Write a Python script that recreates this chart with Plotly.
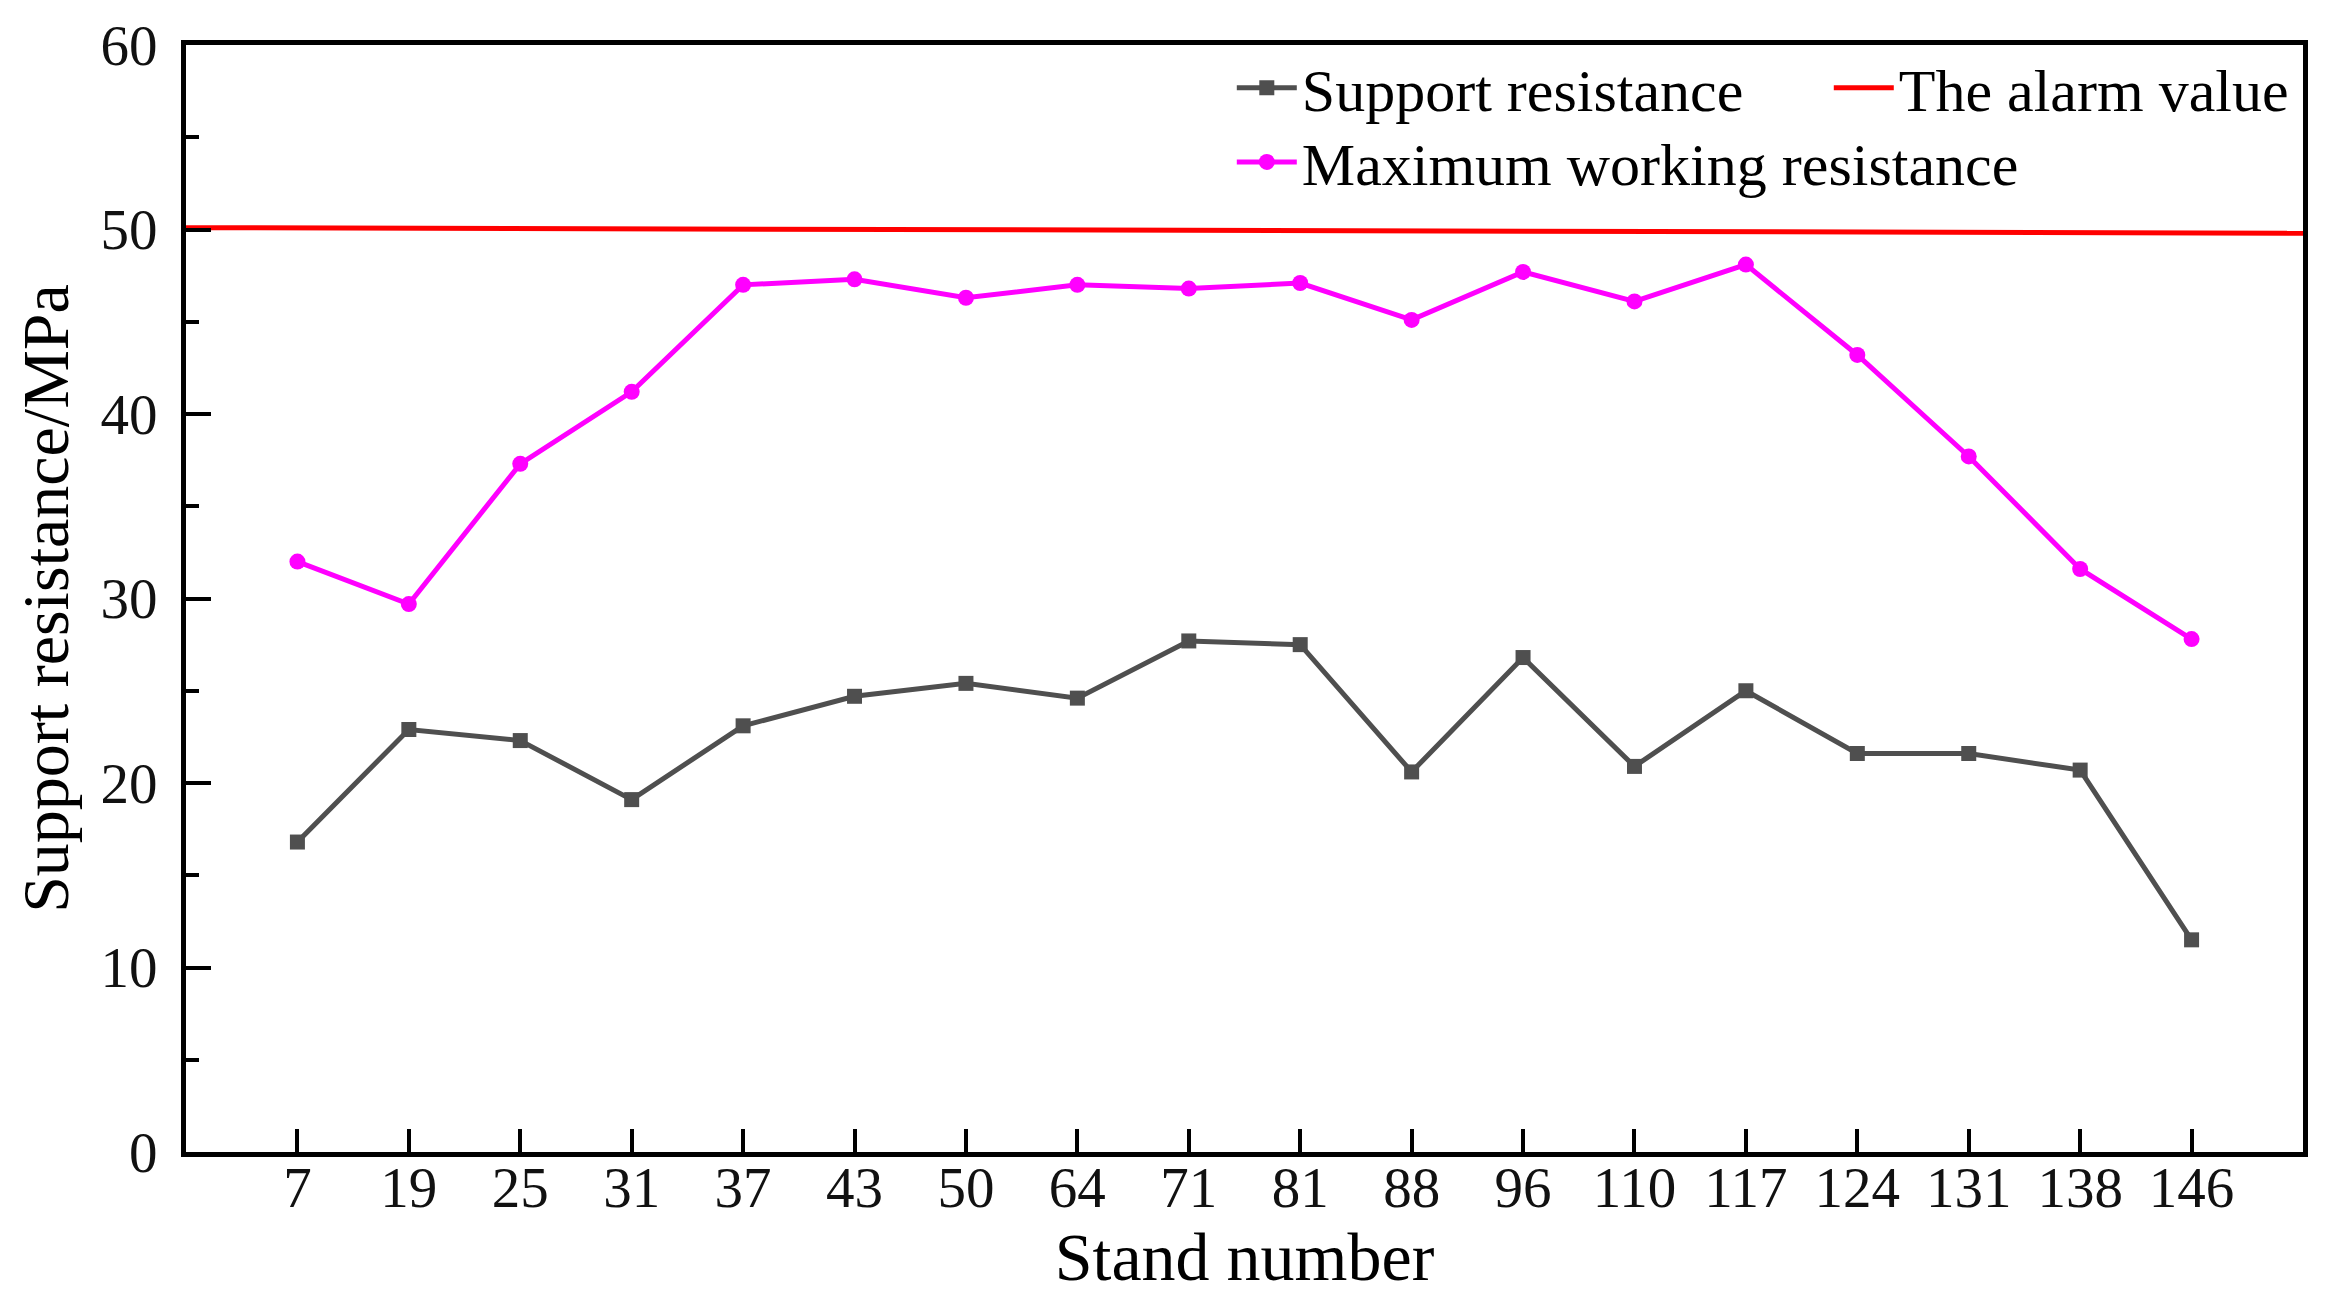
import plotly.graph_objects as go

# ---- data ----
stand_numbers = [7, 19, 25, 31, 37, 43, 50, 64, 71, 81, 88, 96, 110, 117, 124, 131, 138, 146]
support_resistance = [16.8, 22.9, 22.3, 19.1, 23.1, 24.7, 25.4, 24.6, 27.7, 27.5, 20.6, 26.8,
                      20.9, 25.0, 21.6, 21.6, 20.7, 11.5]
max_working_resistance = [32.0, 29.7, 37.3, 41.2, 47.0, 47.3, 46.3, 47.0, 46.8, 47.1, 45.1, 47.7,
                          46.1, 48.1, 43.2, 37.7, 31.6, 27.8]
alarm_values = [50.1, 49.8]  # alarm line at left / right edge
y_ticks = [0, 10, 20, 30, 40, 50, 60]

idx = list(range(len(stand_numbers)))
alarm_x = [-1, len(stand_numbers)]

FONT = "Liberation Serif, Times New Roman, serif"

fig = go.Figure()
fig.add_trace(go.Scatter(
    x=idx, y=support_resistance, name="Support resistance", mode="lines+markers",
    line=dict(color="#4f4f4f", width=5),
    marker=dict(symbol="square", size=15, color="#4f4f4f"),
    legend="legend",
))
fig.add_trace(go.Scatter(
    x=alarm_x, y=alarm_values, name="The alarm value", mode="lines",
    line=dict(color="#ff0000", width=5),
    legend="legend2",
))
fig.add_trace(go.Scatter(
    x=idx, y=max_working_resistance, name="Maximum working resistance", mode="lines+markers",
    line=dict(color="#ff00ff", width=5),
    marker=dict(symbol="circle", size=16, color="#ff00ff"),
    legend="legend3",
))

axis_common = dict(
    showgrid=False, zeroline=False, showline=True, linecolor="black", linewidth=5,
    mirror=True, ticks="inside", tickcolor="black", tickwidth=4,
)

leg_common = dict(
    orientation="h", xanchor="left", yanchor="top",
    bgcolor="rgba(0,0,0,0)", borderwidth=0,
    font=dict(family=FONT, size=60, color="black"),
    itemwidth=60,
)

fig.update_layout(
    width=2320, height=1293,
    margin=dict(l=178, r=25, t=37, b=149, autoexpand=False),
    paper_bgcolor="white", plot_bgcolor="white",
    font=dict(family=FONT, color="black", size=58),
    showlegend=True,
    xaxis=dict(
        **axis_common,
        range=[-1, len(stand_numbers)],
        tickmode="array", tickvals=idx, ticktext=[str(s) for s in stand_numbers],
        ticklen=23, ticklabelstandoff=-18,
        tickfont=dict(family=FONT, size=57, color="#111111"),
        title=dict(text="Stand number", font=dict(family=FONT, size=68, color="black"), standoff=4),
    ),
    yaxis=dict(
        **axis_common,
        range=[0, 60],
        tickmode="array", tickvals=y_ticks,
        ticklen=25, ticklabelstandoff=12,
        tickfont=dict(family=FONT, size=57, color="#111111"),
        minor=dict(ticks="inside", ticklen=13, tickwidth=4, tickcolor="black", dtick=5, showgrid=False),
        title=dict(text="Support resistance/MPa", font=dict(family=FONT, size=66, color="black"), standoff=12),
    ),
    legend=dict(**leg_common, x=0.494, y=1.0025),
    legend2=dict(**leg_common, x=0.776, y=1.0025),
    legend3=dict(**leg_common, x=0.494, y=0.9355),
)

fig.write_html("out.html")
